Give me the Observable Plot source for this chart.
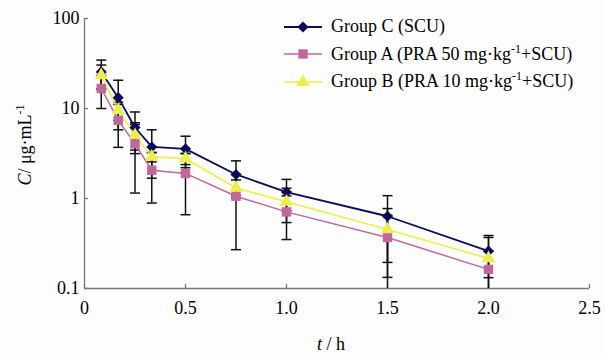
<!DOCTYPE html>
<html><head><meta charset="utf-8">
<script src="https://cdn.jsdelivr.net/npm/d3@7"></script>
<script src="https://cdn.jsdelivr.net/npm/@observablehq/plot@0.6"></script>
<style>
body{margin:0;background:#fdfdfd;}
#wrap{position:relative;width:605px;height:353px;font-family:"Liberation Serif","Times New Roman",serif;color:#000;overflow:hidden;}
#wrap svg{display:block;}
.ylab{position:absolute;left:25px;top:145px;transform:translate(-50%,-50%) rotate(-90deg);white-space:nowrap;font-size:18px;}
.xlab{position:absolute;left:331px;top:344px;transform:translate(-50%,-50%);white-space:nowrap;font-size:18px;}
sup{font-size:12px;vertical-align:7px;line-height:0;}
.legend{position:absolute;left:283px;top:13px;font-size:18px;}
.row{position:relative;height:27.5px;display:flex;align-items:center;white-space:nowrap;}
.row svg{margin-right:8px;}
</style></head><body><div id="wrap"></div>
<script>
// Data
const times = [0.083, 0.167, 0.25, 0.333, 0.5, 0.75, 1.0, 1.5, 2.0];
const groupC = [25.5, 13.2, 6.15, 3.74, 3.56, 1.85, 1.18, 0.635, 0.26];
const groupCerr = [9.0, 7.4, 3.0, 2.06, 1.36, 0.77, 0.45, 0.44, 0.128];
const groupA = [16.7, 7.4, 4.05, 2.06, 1.90, 1.06, 0.71, 0.369, 0.163];
const groupAerr = [6.7, 3.7, 2.9, 1.17, 1.24, 0.79, 0.36, 0.28, 0.10];
const groupB = [23.4, 9.6, 5.05, 2.9, 2.78, 1.31, 0.92, 0.453, 0.216];
const groupBerr = [7.0, 2.2, 1.6, 0.35, 0.4, 0.3, 0.38, 0.32, 0.153];
const xTicks = [0, 0.5, 1.0, 1.5, 2.0, 2.5];
const yTicks = [0.1, 1, 10, 100];
const seriesNames = ["Group C (SCU)", "Group A (PRA 50 mg·kg-1+SCU)", "Group B (PRA 10 mg·kg-1+SCU)"];
const legendHtml = ["Group C (SCU)", "Group A (PRA 50 mg·kg<sup>-1</sup>+SCU)", "Group B (PRA 10 mg·kg<sup>-1</sup>+SCU)"];

const styles = [
  {color: "#0b0b5e", width: 1.8, symbol: "diamond2", r: 5.0, d3sym: d3.symbolDiamond2},
  {color: "#c2679b", width: 1.5, symbol: "square", r: 5.3, d3sym: d3.symbolSquare},
  {color: "#eded4c", width: 1.6, symbol: "triangle", r: 5.0, d3sym: d3.symbolTriangle}
];
const values = [groupC, groupA, groupB];
const errs = [groupCerr, groupAerr, groupBerr];

const series = seriesNames.map((name, k) => ({
  name, style: styles[k],
  rows: times.map((t, i) => ({group: name, t, v: values[k][i], e: errs[k][i]}))
}));
const allRows = series.flatMap(s => s.rows);

const capSymbol = {draw(ctx) { ctx.moveTo(-5, 0); ctx.lineTo(5, 0); }};

const W = 605, H = 353, mL = 84, mR = 16, mT = 18, mB = 65;
const plotW = W - mL - mR, plotH = H - mT - mB;

const marks = [
  Plot.ruleY([0.1], {stroke: "#777", strokeWidth: 1.3}),
  Plot.ruleX([0], {stroke: "#777", strokeWidth: 1.3}),
  Plot.tickX(xTicks, {x: d => d, stroke: "#777", strokeWidth: 1.3, insetTop: plotH - 4}),
  Plot.tickY(yTicks, {y: d => d, stroke: "#777", strokeWidth: 1.3, insetRight: plotW - 4}),
  Plot.axisX({ticks: xTicks, tickSize: 0, tickPadding: 13, label: null,
    tickFormat: d => d === 0 ? "0" : d.toFixed(1)}),
  Plot.axisY({ticks: yTicks, tickSize: 0, tickPadding: 5, label: null,
    tickFormat: d => String(d)}),
  Plot.ruleX(allRows, {x: "t", y1: d => d.v - d.e, y2: d => d.v + d.e, stroke: "#111", strokeWidth: 1.5, clip: true}),
  Plot.dot(allRows, {x: "t", y: d => d.v + d.e, symbol: capSymbol, stroke: "#111", strokeWidth: 1.5, clip: true}),
  Plot.dot(allRows.filter(d => d.v - d.e >= 0.1), {x: "t", y: d => d.v - d.e, symbol: capSymbol, stroke: "#111", strokeWidth: 1.5, clip: true})
];
for (const s of series) {
  marks.push(Plot.line(s.rows, {x: "t", y: "v", stroke: s.style.color, strokeWidth: s.style.width}));
}
for (const s of series) {
  marks.push(Plot.dot(s.rows, {x: "t", y: "v", symbol: s.style.symbol, r: s.style.r, fill: s.style.color, stroke: "none"}));
}

const chart = Plot.plot({
  width: W, height: H,
  marginLeft: mL, marginRight: mR, marginTop: mT, marginBottom: mB,
  style: {background: "transparent", fontFamily: "'Liberation Serif','Times New Roman',serif", fontSize: "18px", color: "#000"},
  x: {domain: [0, 2.5]},
  y: {type: "log", domain: [0.1, 100]},
  marks
});

const wrap = document.getElementById("wrap");
wrap.appendChild(chart);

const ylab = document.createElement("div");
ylab.className = "ylab";
ylab.innerHTML = "<i>C</i>/ μg·mL<sup>-1</sup>";
wrap.appendChild(ylab);
const xlab = document.createElement("div");
xlab.className = "xlab";
xlab.innerHTML = "<i>t</i> / h";
wrap.appendChild(xlab);

const legend = document.createElement("div");
legend.className = "legend";
series.forEach((s, k) => {
  const row = document.createElement("div");
  row.className = "row";
  const sz = Math.PI * s.style.r * s.style.r;
  const path = d3.symbol(s.style.d3sym, sz)();
  row.innerHTML = `<svg width="40" height="16"><line x1="1" x2="39" y1="8" y2="8" stroke="${s.style.color}" stroke-width="${s.style.width}"/><path d="${path}" transform="translate(20,8)" fill="${s.style.color}"/></svg><span>${legendHtml[k]}</span>`;
  legend.appendChild(row);
});
wrap.appendChild(legend);
</script>
</body></html>
